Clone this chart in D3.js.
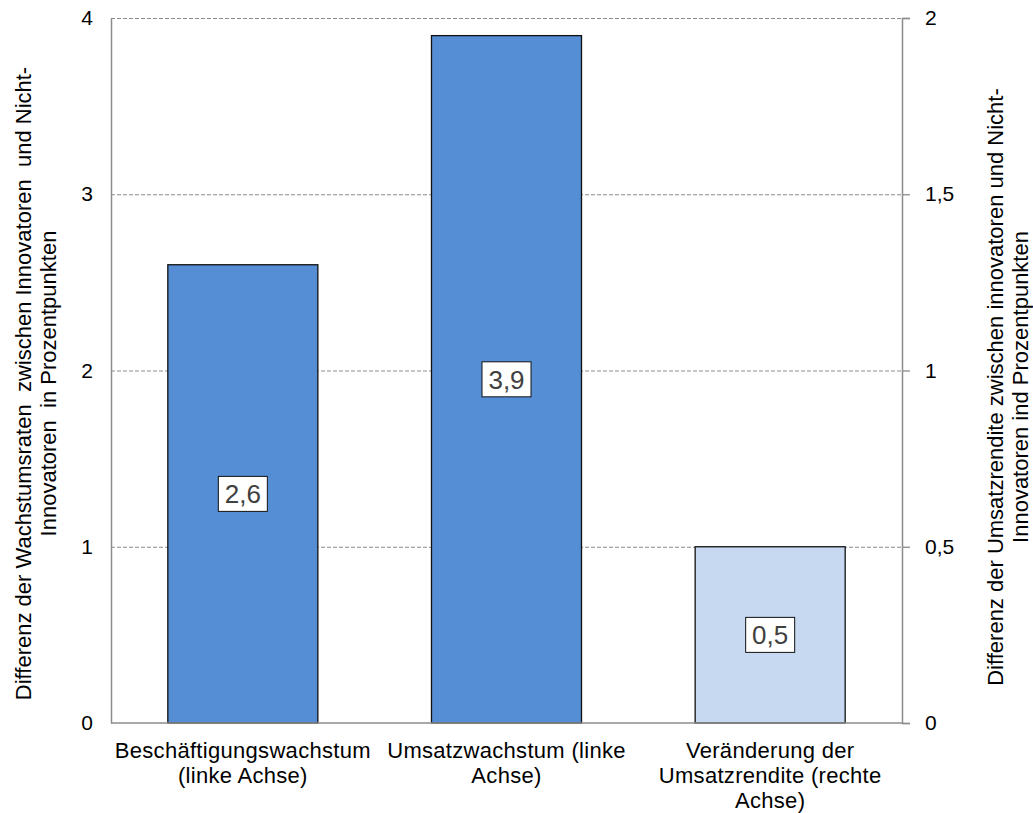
<!DOCTYPE html>
<html><head><meta charset="utf-8">
<script src="https://cdn.jsdelivr.net/npm/d3@7"></script>
<style>body{margin:0;background:#fff}svg{display:block}text{font-family:"Liberation Sans",Arial,sans-serif}</style>
</head><body>
<svg id="c" width="1033" height="813"></svg>
<script>
const categories = [["Beschäftigungswachstum","(linke Achse)"],["Umsatzwachstum (linke","Achse)"],["Veränderung der","Umsatzrendite (rechte","Achse)"]];
const values = [2.6, 3.9, 0.5];
const axisSide = ["left","left","right"];
const valueLabels = ["2,6","3,9","0,5"];
const leftTicks = [0,1,2,3,4];
const rightTicks = [0,0.5,1,1.5,2];
const leftTitle = ["Differenz der Wachstumsraten  zwischen Innovatoren  und Nicht-","Innovatoren  in Prozentpunkten"];
const rightTitle = ["Differenz der Umsatzrendite zwischen innovatoren und Nicht-","Innovatoren ind Prozentpunkten"];

const svg = d3.select("#c");
const L=111, R=902, T=18, B=723;
const x = d3.scaleBand().domain(d3.range(categories.length)).range([L,R]).paddingInner(0.431).paddingOuter(0.2155);
const yL = d3.scaleLinear().domain([0,4]).range([B,T]);
const yR = d3.scaleLinear().domain([0,2]).range([B,T]);
const fmt = v => String(v).replace(".", ",");

// gridlines
svg.append("g").selectAll("line").data(leftTicks.filter(d=>d>0)).join("line")
  .attr("x1",L).attr("x2",R).attr("y1",d=>yL(d)+0.5).attr("y2",d=>yL(d)+0.5)
  .attr("stroke","#8c8c8c").attr("stroke-dasharray","4,2").attr("stroke-width",1);

// bars
svg.append("g").selectAll("rect").data(values).join("rect")
  .attr("x",(d,i)=>x(i)).attr("width",x.bandwidth())
  .attr("y",(d,i)=>(axisSide[i]==="left"?yL:yR)(d))
  .attr("height",(d,i)=>B-(axisSide[i]==="left"?yL:yR)(d))
  .attr("fill",(d,i)=>axisSide[i]==="left"?"#558ED5":"#C6D9F1")
  .attr("stroke","#111").attr("stroke-width",1.3);

// axes
const gl = svg.append("g").attr("transform",`translate(${L},0)`)
  .call(d3.axisLeft(yL).tickValues(leftTicks).tickFormat(fmt).tickSize(0).tickPadding(18));
const gr = svg.append("g").attr("transform",`translate(${R},0)`)
  .call(d3.axisRight(yR).tickValues(rightTicks).tickFormat(fmt).tickSize(8).tickPadding(15));
[gl,gr].forEach(g=>{
  g.select(".domain").attr("stroke","#8c8c8c").attr("stroke-width",1.5);
  g.selectAll(".tick line").attr("stroke","#8c8c8c").attr("stroke-width",1.3);
  g.selectAll(".tick text").attr("font-size",21).attr("fill","#000").attr("font-family","Liberation Sans, Arial, sans-serif");
});
svg.append("line").attr("x1",L).attr("x2",R).attr("y1",B).attr("y2",B).attr("stroke","#8c8c8c").attr("stroke-width",1.5);

// category labels
const cl = svg.append("g").selectAll("text").data(categories).join("text")
  .attr("text-anchor","middle").attr("font-size",22).attr("letter-spacing","0.3px").attr("fill","#000")
  .attr("x",(d,i)=>x(i)+x.bandwidth()/2).attr("y",758);
cl.selectAll("tspan").data(d=>d).join("tspan")
  .attr("x",function(){return this.parentNode.getAttribute("x");})
  .attr("dy",(d,j)=>j===0?0:25).text(d=>d);

// value labels
const vl = svg.append("g").selectAll("g").data(values).join("g")
  .attr("transform",(d,i)=>{const y=(axisSide[i]==="left"?yL:yR); return `translate(${x(i)+x.bandwidth()/2},${(y(d)+B)/2})`;});
vl.append("rect").attr("x",-24.5).attr("y",-17.5).attr("width",49).attr("height",35)
  .attr("fill","#fff").attr("stroke","#111").attr("stroke-width",1);
vl.append("text").attr("text-anchor","middle").attr("dy","0.36em").attr("font-size",26).attr("fill","#404040")
  .text((d,i)=>valueLabels[i]);

// axis titles
function title(lines, cx, cy){
  const t = svg.append("text").attr("transform",`translate(${cx},${cy}) rotate(-90)`)
    .attr("text-anchor","middle").attr("font-size",22).attr("fill","#000").style("white-space","pre");
  t.selectAll("tspan").data(lines).join("tspan").attr("x",0).attr("dy",(d,j)=>j===0?0:24.5).text(d=>d);
}
title(leftTitle, 31, 383.5);
title(rightTitle, 1003, 387);
</script>
</body></html>
